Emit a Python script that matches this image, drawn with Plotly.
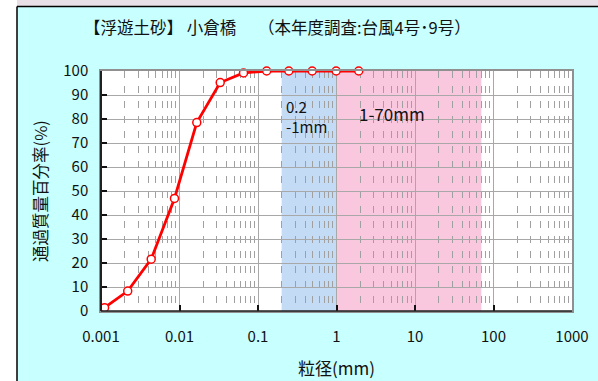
import math
import plotly.graph_objects as go

# Particle size distribution (passing percentage by mass)
grain_mm = [0.00111, 0.00219, 0.00436, 0.00863, 0.0166, 0.0330, 0.0654, 0.129, 0.247, 0.49, 0.99, 1.92]
passing_pct = [1.4, 8.3, 21.6, 46.9, 78.5, 95.2, 99.2, 100, 100, 100, 100, 100]

# Highlighted size bands
band_lo = [0.2, 1]
band_hi = [1, 70]
band_fill = ["#c4dbf6", "#f9c8df"]
band_text = ["0.2<br>-1mm", "1-70mm"]
band_text_x = [0.216, 5.16]
band_text_y = [81, 82.4]
band_text_anchor = ["left", "center"]
band_text_size = [15, 17]

x_tickvals = [0.001, 0.01, 0.1, 1, 10, 100, 1000]
x_ticktext = ["0.001", "0.01", "0.1", "1", "10", "100", "1000"]
x_minor = [m * d for d in [0.001, 0.01, 0.1, 1, 10, 100] for m in range(2, 10)]
y_tickvals = list(range(0, 101, 10))

FONT = "Noto Sans CJK JP"
PLOT_W, PLOT_H = 471, 240.3
fig = go.Figure()

shapes = []
for lo, hi, col in zip(band_lo, band_hi, band_fill):
    shapes.append(dict(type="rect", xref="x", yref="y", x0=lo, x1=hi, y0=0, y1=100,
                       fillcolor=col, line_width=0, layer="below"))

# Panel decoration: white margin on the left, strip along the top, frame lines
top_edge = (310 - 5) / PLOT_H
left_edge = -84 / PLOT_W
shapes += [
    dict(type="rect", xref="paper", yref="paper", x0=-101 / PLOT_W, x1=left_edge, y0=-2, y1=2,
         fillcolor="white", line_width=0, layer="below"),
    dict(type="rect", xref="paper", yref="paper", x0=left_edge, x1=2, y0=top_edge, y1=2,
         fillcolor="#e9dfe6", line_width=0, layer="below"),
    dict(type="line", xref="paper", yref="paper", x0=left_edge, x1=left_edge, y0=-2, y1=top_edge,
         line=dict(color="black", width=1.5)),
    dict(type="line", xref="paper", yref="paper", x0=left_edge, x1=2, y0=top_edge, y1=top_edge,
         line=dict(color="black", width=1.5)),
    # dark left and bottom axis lines
    dict(type="line", xref="paper", yref="paper", x0=0, x1=0, y0=0, y1=1,
         line=dict(color="#202020", width=2)),
    dict(type="line", xref="paper", yref="paper", x0=0, x1=1, y0=0, y1=0,
         line=dict(color="#202020", width=1.5)),
]

fig.add_trace(go.Scatter(
    x=grain_mm, y=passing_pct, mode="lines+markers",
    line=dict(color="#ff0000", width=2.8),
    marker=dict(size=8, color="white", line=dict(color="#ff0000", width=1.5)),
    cliponaxis=False, showlegend=False, hoverinfo="x+y",
))

annotations = []
for t, tx, ty, anc, ts in zip(band_text, band_text_x, band_text_y, band_text_anchor, band_text_size):
    # annotation positions on a log axis are given in log10 units
    annotations.append(dict(x=math.log10(tx), y=ty, xref="x", yref="y", text=t, showarrow=False,
                            xanchor=anc, align="left",
                            font=dict(family=FONT, size=ts, color="#111")))

# Chart title in two pieces: site name and survey note
title_y = 1 + (71 - 27) / PLOT_H
annotations += [
    dict(x=(239 - 101) / PLOT_W, y=title_y, xref="paper", yref="paper",
         text="【浮遊土砂】 小倉橋", showarrow=False, xanchor="right", yanchor="middle",
         font=dict(family=FONT, size=16.5, color="#111")),
    dict(x=(256 - 101) / PLOT_W, y=title_y, xref="paper", yref="paper",
         text="（本年度調査:台風4号･9号）", showarrow=False, xanchor="left", yanchor="middle",
         font=dict(family=FONT, size=16.5, color="#111")),
]

fig.update_layout(
    width=598, height=381,
    margin=dict(l=101, r=26, t=71, b=70),
    paper_bgcolor="#c8ffff", plot_bgcolor="white",
    font=dict(family=FONT, size=15, color="#111"),
    shapes=shapes, annotations=annotations,
    xaxis=dict(
        type="log", range=[-3, 3], automargin=False,
        tickmode="array", tickvals=x_tickvals, ticktext=x_ticktext,
        ticks="inside", ticklen=6, tickcolor="#111", tickwidth=1.5,
        showgrid=True, gridcolor="#a8a8a8", gridwidth=1,
        minor=dict(tickmode="array", tickvals=x_minor, showgrid=True,
                   gridcolor="#a0a0a0", gridwidth=1, griddash="7px,8px", ticks=""),
        showline=True, mirror=True, linecolor="#909090", linewidth=1.5,
        ticklabelstandoff=11, tickfont=dict(size=15),
        title=dict(text="粒径(mm)", font=dict(size=17), standoff=18),
        zeroline=False,
    ),
    yaxis=dict(
        range=[0, 100], automargin=False, tickmode="array", tickvals=y_tickvals,
        ticks="inside", ticklen=6, tickcolor="#111", tickwidth=1.5,
        showgrid=True, gridcolor="#a8a8a8", gridwidth=1,
        showline=True, mirror=True, linecolor="#909090", linewidth=1.5,
        ticklabelstandoff=8, tickfont=dict(size=15),
        title=dict(text="通過質量百分率(%)", font=dict(size=16.5), standoff=11),
        zeroline=False,
    ),
)

fig.write_html("out.html")
